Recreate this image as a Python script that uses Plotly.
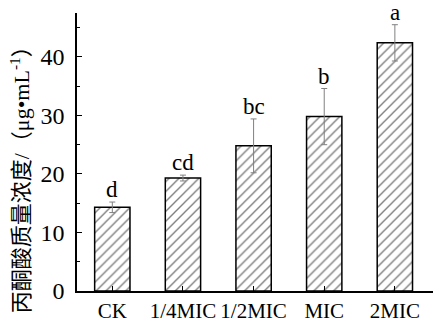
import plotly.graph_objects as go

# Pyruvate mass concentration under different treatment levels
groups = ["CK", "1/4MIC", "1/2MIC", "MIC", "2MIC"]
means = [14.3, 19.3, 24.8, 29.8, 42.4]
errors = [0.9, 0.5, 4.6, 4.8, 3.1]
letters = ["d", "cd", "bc", "b", "a"]

serif = "Times New Roman, Liberation Serif, Noto Sans CJK SC, serif"

fig = go.Figure()
fig.add_trace(go.Bar(
    x=list(range(len(groups))),
    y=means,
    width=0.5,
    marker=dict(
        color="white",
        line=dict(color="black", width=1.5),
        pattern=dict(shape="/", fgcolor="black", bgcolor="white", size=7, solidity=0.2),
    ),
    error_y=dict(type="data", array=errors, visible=True, color="#808080", thickness=1, width=3),
    showlegend=False,
))

for i, (m, e, lab) in enumerate(zip(means, errors, letters)):
    fig.add_annotation(
        x=i, y=m + e, text=lab, showarrow=False,
        xanchor="center", yanchor="bottom", yshift=-2,
        font=dict(family=serif, size=23, color="black"),
    )

# vertical axis title, placed as a rotated annotation
fig.add_annotation(
    xref="paper", yref="paper", x=-0.16, y=0.42,
    text="丙酮酸质量浓度/（μg•mL<sup>-1</sup>）",
    textangle=-90, showarrow=False, xanchor="center", yanchor="middle",
    font=dict(family=serif, size=22, color="black"),
)

fig.update_layout(
    width=433, height=326,
    margin=dict(l=77, r=0, t=13, b=35),
    paper_bgcolor="white", plot_bgcolor="white",
    bargap=0.5,
    font=dict(family=serif, size=21, color="black"),
)

fig.update_xaxes(
    range=[-0.5, 4.54],
    tickmode="array", tickvals=list(range(len(groups))), ticktext=groups,
    tickangle=0,
    ticks="inside", ticklen=5, tickwidth=1, tickcolor="black",
    showline=True, linecolor="black", linewidth=1.5,
    showgrid=False, zeroline=False,
    tickfont=dict(family=serif, size=21),
)

fig.update_yaxes(
    range=[0, 47.5],
    tickmode="linear", tick0=0, dtick=10,
    ticks="inside", ticklen=5, tickwidth=1, tickcolor="black",
    minor=dict(dtick=5, ticks="inside", ticklen=3, tickcolor="black", tickwidth=1),
    showline=True, linecolor="black", linewidth=1.5,
    showgrid=False, zeroline=False,
    tickfont=dict(family=serif, size=24),
    ticklabelstandoff=6,
)

fig.write_html("out.html")
